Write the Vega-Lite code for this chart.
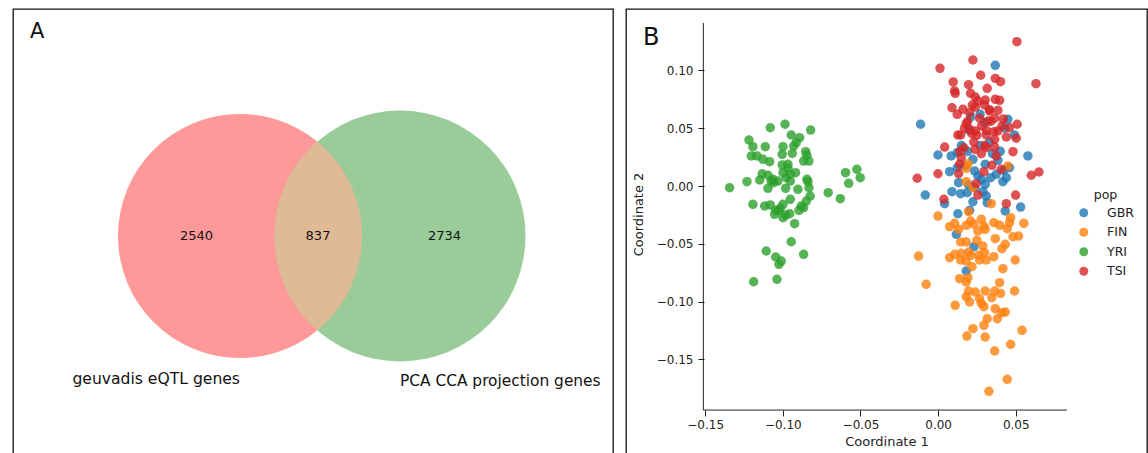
{
  "$schema": "https://vega.github.io/schema/vega-lite/v6.json",
  "padding": {"left": 12, "top": 8, "right": 3, "bottom": 0},
  "background": "white",
  "spacing": 11,
  "resolve": {"scale": {"color": "independent", "size": "independent", "x": "independent", "y": "independent"}, "legend": {"color": "independent", "size": "independent"}},
  "config": {
    "font": "DejaVu Sans",
    "view": {"stroke": "#111", "strokeWidth": 1.3},
    "text": {"font": "DejaVu Sans", "color": "#111"}
  },
  "hconcat": [
    {
      "width": 600,
      "height": 445,
      "layer": [
        {
          "data": {"values": [
            {"set": "geuvadis eQTL genes", "cx": 227, "cy": 227, "total": 3377},
            {"set": "PCA CCA projection genes", "cx": 387, "cy": 227, "total": 3571}
          ]},
          "mark": {"type": "point", "shape": "circle", "filled": true, "opacity": 1, "strokeWidth": 0},
          "encoding": {
            "x": {"field": "cx", "type": "quantitative", "scale": {"domain": [0, 600], "nice": false, "zero": false}, "axis": null},
            "y": {"field": "cy", "type": "quantitative", "scale": {"domain": [0, 445], "nice": false, "zero": false, "reverse": true}, "axis": null},
            "size": {"field": "total", "type": "quantitative", "scale": {"type": "linear", "domain": [0, 3571], "range": [0, 63001], "zero": true}, "legend": null},
            "color": {"field": "set", "type": "nominal", "scale": {"domain": ["geuvadis eQTL genes", "PCA CCA projection genes"], "range": ["#ff9999", "#99cc99"]}, "legend": null}
          }
        },
        {
          "data": {"values": [{"region": "overlap", "cx": 304.3, "cy": 227, "n": 837}]},
          "mark": {"type": "point", "shape": "M0,-0.9439A1.255,1.255,0,0,0,0,0.9439A1.22,1.22,0,0,0,0,-0.9439Z", "filled": true, "fill": "#deba97", "opacity": 1, "strokeWidth": 0, "size": 40000},
          "encoding": {
            "x": {"field": "cx", "type": "quantitative"},
            "y": {"field": "cy", "type": "quantitative"}
          }
        },
        {
          "data": {"values": [
            {"label": "2540", "cx": 183.6, "cy": 230.7},
            {"label": "837", "cx": 305, "cy": 230.7},
            {"label": "2734", "cx": 431.6, "cy": 230.7}
          ]},
          "mark": {"type": "text", "fontSize": 13, "align": "center", "baseline": "alphabetic"},
          "encoding": {
            "x": {"field": "cx", "type": "quantitative"},
            "y": {"field": "cy", "type": "quantitative"},
            "text": {"field": "label"}
          }
        },
        {
          "data": {"values": [{"label": "geuvadis eQTL genes", "cx": 227, "cy": 374.5}]},
          "mark": {"type": "text", "fontSize": 15.6, "align": "right", "baseline": "alphabetic"},
          "encoding": {
            "x": {"field": "cx", "type": "quantitative"},
            "y": {"field": "cy", "type": "quantitative"},
            "text": {"field": "label"}
          }
        },
        {
          "data": {"values": [{"label": "PCA CCA projection genes", "cx": 387, "cy": 377}]},
          "mark": {"type": "text", "fontSize": 15.4, "align": "left", "baseline": "alphabetic"},
          "encoding": {
            "x": {"field": "cx", "type": "quantitative"},
            "y": {"field": "cy", "type": "quantitative"},
            "text": {"field": "label"}
          }
        },
        {
          "data": {"values": [{"label": "A", "cx": 17, "cy": 29}]},
          "mark": {"type": "text", "fontSize": 21, "align": "left", "baseline": "alphabetic"},
          "encoding": {
            "x": {"field": "cx", "type": "quantitative"},
            "y": {"field": "cy", "type": "quantitative"},
            "text": {"field": "label"}
          }
        }
      ]
    },
    {
      "width": 521,
      "height": 445,
      "layer": [
        {
          "data": {"values": [
            {"side": "left", "x": -0.1512, "x2": -0.1512, "y": -0.1938, "y2": 0.141},
            {"side": "bottom", "x": -0.1512, "x2": 0.0829, "y": -0.1938, "y2": -0.1938}
          ]},
          "mark": {"type": "rule", "color": "#222", "strokeWidth": 1},
          "encoding": {
            "x": {"field": "x", "type": "quantitative"},
            "x2": {"field": "x2"},
            "y": {"field": "y", "type": "quantitative"},
            "y2": {"field": "y2"}
          }
        },
        {
          "data": {"values": [
{"pop":"GBR","x":0.0368,"y":0.1044},{"pop":"GBR","x":-0.0113,"y":0.0534},{"pop":"GBR","x":0.0449,"y":0.0577},{"pop":"GBR","x":0.0492,"y":0.0441},{"pop":"GBR","x":0.0209,"y":0.0597},
{"pop":"GBR","x":-0.0001,"y":0.0268},{"pop":"GBR","x":0.0084,"y":0.0260},{"pop":"GBR","x":0.0123,"y":0.0288},{"pop":"GBR","x":0.0578,"y":0.0260},{"pop":"GBR","x":0.0074,"y":0.0124},
{"pop":"GBR","x":0.0123,"y":0.0158},{"pop":"GBR","x":0.0224,"y":0.0231},{"pop":"GBR","x":0.0235,"y":0.0130},{"pop":"GBR","x":0.0303,"y":0.0188},{"pop":"GBR","x":0.0374,"y":0.0101},
{"pop":"GBR","x":0.0424,"y":0.0136},{"pop":"GBR","x":0.0460,"y":0.0158},{"pop":"GBR","x":0.0439,"y":0.0072},{"pop":"GBR","x":0.0417,"y":0.0037},{"pop":"GBR","x":0.0278,"y":0.0058},
{"pop":"GBR","x":0.0303,"y":0.0015},{"pop":"GBR","x":0.0132,"y":0.0029},{"pop":"GBR","x":0.0196,"y":0.0009},{"pop":"GBR","x":0.0089,"y":-0.0049},{"pop":"GBR","x":0.0145,"y":-0.0067},
{"pop":"GBR","x":0.0187,"y":-0.0058},{"pop":"GBR","x":-0.0083,"y":-0.0078},{"pop":"GBR","x":0.0288,"y":-0.0049},{"pop":"GBR","x":0.0310,"y":-0.0087},{"pop":"GBR","x":0.0042,"y":-0.0153},
{"pop":"GBR","x":0.0224,"y":-0.0136},{"pop":"GBR","x":0.0316,"y":-0.0144},{"pop":"GBR","x":0.0127,"y":-0.0240},{"pop":"GBR","x":0.0531,"y":-0.0182},{"pop":"GBR","x":0.0432,"y":-0.0216},
{"pop":"GBR","x":0.0203,"y":-0.0210},{"pop":"GBR","x":0.0235,"y":-0.0015},{"pop":"GBR","x":0.0256,"y":0.0087},{"pop":"GBR","x":0.0338,"y":0.0072},{"pop":"GBR","x":0.0385,"y":0.0222},
{"pop":"GBR","x":0.0171,"y":0.0173},{"pop":"GBR","x":0.0117,"y":-0.0418},{"pop":"GBR","x":0.0231,"y":-0.0525},{"pop":"GBR","x":0.0181,"y":-0.0735},{"pop":"GBR","x":0.0200,"y":0.0480},
{"pop":"GBR","x":0.0300,"y":0.0550},{"pop":"GBR","x":0.0430,"y":0.0500},{"pop":"GBR","x":0.0150,"y":0.0350},{"pop":"GBR","x":0.0330,"y":0.0380},{"pop":"GBR","x":0.0270,"y":0.0620},
{"pop":"GBR","x":0.0400,"y":0.0300},{"pop":"GBR","x":0.0270,"y":0.0350},{"pop":"GBR","x":0.0350,"y":0.0280},{"pop":"GBR","x":0.0190,"y":0.0300},
{"pop":"FIN","x":0.0192,"y":0.0193},{"pop":"FIN","x":0.0181,"y":0.0153},{"pop":"FIN","x":0.0449,"y":0.0173},{"pop":"FIN","x":0.0181,"y":0.0037},{"pop":"FIN","x":0.0224,"y":-0.0015},
{"pop":"FIN","x":0.0342,"y":-0.0153},{"pop":"FIN","x":-0.0001,"y":-0.0260},{"pop":"FIN","x":0.0196,"y":-0.0222},{"pop":"FIN","x":0.0074,"y":-0.0352},{"pop":"FIN","x":0.0106,"y":-0.0323},
{"pop":"FIN","x":0.0132,"y":-0.0375},{"pop":"FIN","x":0.0209,"y":-0.0303},{"pop":"FIN","x":0.0181,"y":-0.0340},{"pop":"FIN","x":0.0278,"y":-0.0288},{"pop":"FIN","x":0.0295,"y":-0.0346},
{"pop":"FIN","x":0.0256,"y":-0.0389},{"pop":"FIN","x":0.0303,"y":-0.0375},{"pop":"FIN","x":0.0359,"y":-0.0317},{"pop":"FIN","x":0.0396,"y":-0.0340},{"pop":"FIN","x":0.0445,"y":-0.0369},
{"pop":"FIN","x":0.0467,"y":-0.0274},{"pop":"FIN","x":0.0460,"y":-0.0317},{"pop":"FIN","x":0.0552,"y":-0.0323},{"pop":"FIN","x":0.0482,"y":-0.0439},{"pop":"FIN","x":0.0518,"y":-0.0433},
{"pop":"FIN","x":0.0368,"y":-0.0456},{"pop":"FIN","x":0.0145,"y":-0.0484},{"pop":"FIN","x":0.0181,"y":-0.0484},{"pop":"FIN","x":0.0250,"y":-0.0470},{"pop":"FIN","x":0.0288,"y":-0.0519},
{"pop":"FIN","x":0.0432,"y":-0.0504},{"pop":"FIN","x":0.0411,"y":-0.0542},{"pop":"FIN","x":-0.0126,"y":-0.0606},{"pop":"FIN","x":0.0074,"y":-0.0620},{"pop":"FIN","x":0.0106,"y":-0.0591},
{"pop":"FIN","x":0.0149,"y":-0.0582},{"pop":"FIN","x":0.0196,"y":-0.0571},{"pop":"FIN","x":0.0261,"y":-0.0599},{"pop":"FIN","x":0.0267,"y":-0.0640},{"pop":"FIN","x":0.0299,"y":-0.0577},
{"pop":"FIN","x":0.0310,"y":-0.0640},{"pop":"FIN","x":0.0359,"y":-0.0611},{"pop":"FIN","x":0.0145,"y":-0.0640},{"pop":"FIN","x":0.0181,"y":-0.0649},{"pop":"FIN","x":0.0218,"y":-0.0698},
{"pop":"FIN","x":0.0496,"y":-0.0640},{"pop":"FIN","x":0.0417,"y":-0.0715},{"pop":"FIN","x":-0.0077,"y":-0.0850},{"pop":"FIN","x":0.0138,"y":-0.0802},{"pop":"FIN","x":0.0192,"y":-0.0793},
{"pop":"FIN","x":0.0181,"y":-0.0830},{"pop":"FIN","x":0.0396,"y":-0.0836},{"pop":"FIN","x":0.0196,"y":-0.0908},{"pop":"FIN","x":0.0239,"y":-0.0917},{"pop":"FIN","x":0.0303,"y":-0.0908},
{"pop":"FIN","x":0.0364,"y":-0.0908},{"pop":"FIN","x":0.0402,"y":-0.0929},{"pop":"FIN","x":0.0492,"y":-0.0908},{"pop":"FIN","x":0.0181,"y":-0.0958},{"pop":"FIN","x":0.0203,"y":-0.1003},
{"pop":"FIN","x":0.0267,"y":-0.0975},{"pop":"FIN","x":0.0278,"y":-0.1015},{"pop":"FIN","x":0.0295,"y":-0.1044},{"pop":"FIN","x":0.0346,"y":-0.0966},{"pop":"FIN","x":0.0110,"y":-0.1032},
{"pop":"FIN","x":0.0368,"y":-0.1061},{"pop":"FIN","x":0.0411,"y":-0.1096},{"pop":"FIN","x":0.0432,"y":-0.1090},{"pop":"FIN","x":0.0381,"y":-0.1148},{"pop":"FIN","x":0.0316,"y":-0.1148},
{"pop":"FIN","x":0.0295,"y":-0.1205},{"pop":"FIN","x":0.0224,"y":-0.1234},{"pop":"FIN","x":0.0540,"y":-0.1248},{"pop":"FIN","x":0.0185,"y":-0.1298},{"pop":"FIN","x":0.0303,"y":-0.1306},
{"pop":"FIN","x":0.0467,"y":-0.1369},{"pop":"FIN","x":0.0364,"y":-0.1427},{"pop":"FIN","x":0.0445,"y":-0.1672},{"pop":"FIN","x":0.0327,"y":-0.1776},{"pop":"FIN","x":0.0230,"y":-0.0330},
{"pop":"FIN","x":0.0210,"y":-0.0600},
{"pop":"YRI","x":-0.1081,"y":0.0504},{"pop":"YRI","x":-0.0986,"y":0.0534},{"pop":"YRI","x":-0.0821,"y":0.0484},{"pop":"YRI","x":-0.1218,"y":0.0398},{"pop":"YRI","x":-0.1193,"y":0.0340},
{"pop":"YRI","x":-0.1113,"y":0.0340},{"pop":"YRI","x":-0.0999,"y":0.0340},{"pop":"YRI","x":-0.0946,"y":0.0441},{"pop":"YRI","x":-0.0892,"y":0.0418},{"pop":"YRI","x":-0.0914,"y":0.0375},
{"pop":"YRI","x":-0.0930,"y":0.0346},{"pop":"YRI","x":-0.1203,"y":0.0260},{"pop":"YRI","x":-0.1167,"y":0.0260},{"pop":"YRI","x":-0.1128,"y":0.0231},{"pop":"YRI","x":-0.1085,"y":0.0210},
{"pop":"YRI","x":-0.1004,"y":0.0274},{"pop":"YRI","x":-0.0939,"y":0.0283},{"pop":"YRI","x":-0.0853,"y":0.0297},{"pop":"YRI","x":-0.0845,"y":0.0266},{"pop":"YRI","x":-0.0866,"y":0.0216},
{"pop":"YRI","x":-0.0832,"y":0.0216},{"pop":"YRI","x":-0.1004,"y":0.0182},{"pop":"YRI","x":-0.0967,"y":0.0153},{"pop":"YRI","x":-0.1133,"y":0.0106},{"pop":"YRI","x":-0.1096,"y":0.0093},
{"pop":"YRI","x":-0.1064,"y":0.0058},{"pop":"YRI","x":-0.1032,"y":0.0043},{"pop":"YRI","x":-0.0999,"y":0.0115},{"pop":"YRI","x":-0.0952,"y":0.0101},{"pop":"YRI","x":-0.0918,"y":0.0115},
{"pop":"YRI","x":-0.0978,"y":0.0072},{"pop":"YRI","x":-0.1149,"y":0.0052},{"pop":"YRI","x":-0.1231,"y":0.0037},{"pop":"YRI","x":-0.1343,"y":-0.0015},{"pop":"YRI","x":-0.1096,"y":-0.0020},
{"pop":"YRI","x":-0.0982,"y":-0.0020},{"pop":"YRI","x":-0.0903,"y":-0.0029},{"pop":"YRI","x":-0.0845,"y":0.0058},{"pop":"YRI","x":-0.0838,"y":0.0037},{"pop":"YRI","x":-0.0832,"y":-0.0015},
{"pop":"YRI","x":-0.0824,"y":-0.0087},{"pop":"YRI","x":-0.0849,"y":-0.0130},{"pop":"YRI","x":-0.0882,"y":-0.0173},{"pop":"YRI","x":-0.0896,"y":-0.0210},{"pop":"YRI","x":-0.0952,"y":-0.0115},
{"pop":"YRI","x":-0.0999,"y":-0.0158},{"pop":"YRI","x":-0.1017,"y":-0.0193},{"pop":"YRI","x":-0.1046,"y":-0.0210},{"pop":"YRI","x":-0.1053,"y":-0.0245},{"pop":"YRI","x":-0.1117,"y":-0.0173},
{"pop":"YRI","x":-0.1081,"y":-0.0164},{"pop":"YRI","x":-0.1193,"y":-0.0158},{"pop":"YRI","x":-0.0999,"y":-0.0274},{"pop":"YRI","x":-0.0982,"y":-0.0251},{"pop":"YRI","x":-0.0956,"y":-0.0240},
{"pop":"YRI","x":-0.0924,"y":-0.0326},{"pop":"YRI","x":-0.0946,"y":-0.0482},{"pop":"YRI","x":-0.1107,"y":-0.0562},{"pop":"YRI","x":-0.1046,"y":-0.0614},{"pop":"YRI","x":-0.1010,"y":-0.0649},
{"pop":"YRI","x":-0.1025,"y":-0.0677},{"pop":"YRI","x":-0.0866,"y":-0.0591},{"pop":"YRI","x":-0.1188,"y":-0.0828},{"pop":"YRI","x":-0.1038,"y":-0.0807},{"pop":"YRI","x":-0.0708,"y":-0.0058},
{"pop":"YRI","x":-0.0630,"y":-0.0110},{"pop":"YRI","x":-0.0596,"y":0.0115},{"pop":"YRI","x":-0.0523,"y":0.0144},{"pop":"YRI","x":-0.0502,"y":0.0072},{"pop":"YRI","x":-0.0576,"y":0.0023},
{"pop":"YRI","x":-0.1059,"y":0.0029},{"pop":"YRI","x":-0.1075,"y":0.0043},{"pop":"YRI","x":-0.0952,"y":0.0043},{"pop":"YRI","x":-0.0967,"y":0.0188},{"pop":"YRI","x":-0.1025,"y":-0.0210},
{"pop":"YRI","x":-0.0866,"y":-0.0188},
{"pop":"TSI","x":0.0507,"y":0.1248},{"pop":"TSI","x":0.0224,"y":0.1090},{"pop":"TSI","x":0.0012,"y":0.1018},{"pop":"TSI","x":0.0630,"y":0.0885},{"pop":"TSI","x":0.0274,"y":0.0958},
{"pop":"TSI","x":0.0368,"y":0.0931},{"pop":"TSI","x":0.0402,"y":0.0902},{"pop":"TSI","x":0.0097,"y":0.0900},{"pop":"TSI","x":0.0196,"y":0.0876},{"pop":"TSI","x":0.0106,"y":0.0822},
{"pop":"TSI","x":0.0110,"y":0.0802},{"pop":"TSI","x":0.0316,"y":0.0845},{"pop":"TSI","x":0.0209,"y":0.0802},{"pop":"TSI","x":0.0239,"y":0.0770},{"pop":"TSI","x":0.0089,"y":0.0677},
{"pop":"TSI","x":0.0160,"y":0.0663},{"pop":"TSI","x":0.0256,"y":0.0735},{"pop":"TSI","x":0.0303,"y":0.0744},{"pop":"TSI","x":0.0368,"y":0.0750},{"pop":"TSI","x":0.0396,"y":0.0741},
{"pop":"TSI","x":0.0239,"y":0.0683},{"pop":"TSI","x":0.0299,"y":0.0701},{"pop":"TSI","x":0.0203,"y":0.0634},{"pop":"TSI","x":0.0332,"y":0.0649},{"pop":"TSI","x":0.0385,"y":0.0655},
{"pop":"TSI","x":0.0123,"y":0.0620},{"pop":"TSI","x":0.0509,"y":0.0534},{"pop":"TSI","x":0.0267,"y":0.0586},{"pop":"TSI","x":0.0321,"y":0.0562},{"pop":"TSI","x":0.0181,"y":0.0539},
{"pop":"TSI","x":0.0203,"y":0.0490},{"pop":"TSI","x":0.0239,"y":0.0476},{"pop":"TSI","x":0.0364,"y":0.0586},{"pop":"TSI","x":0.0411,"y":0.0519},{"pop":"TSI","x":0.0127,"y":0.0441},
{"pop":"TSI","x":0.0310,"y":0.0482},{"pop":"TSI","x":0.0385,"y":0.0476},{"pop":"TSI","x":0.0460,"y":0.0504},{"pop":"TSI","x":0.0503,"y":0.0413},{"pop":"TSI","x":0.0145,"y":0.0441},
{"pop":"TSI","x":0.0218,"y":0.0453},{"pop":"TSI","x":0.0310,"y":0.0441},{"pop":"TSI","x":0.0364,"y":0.0404},{"pop":"TSI","x":0.0439,"y":0.0424},{"pop":"TSI","x":0.0042,"y":0.0337},
{"pop":"TSI","x":0.0166,"y":0.0331},{"pop":"TSI","x":0.0239,"y":0.0317},{"pop":"TSI","x":0.0310,"y":0.0331},{"pop":"TSI","x":0.0364,"y":0.0337},{"pop":"TSI","x":0.0278,"y":0.0279},
{"pop":"TSI","x":0.0482,"y":0.0297},{"pop":"TSI","x":0.0149,"y":0.0245},{"pop":"TSI","x":0.0374,"y":0.0260},{"pop":"TSI","x":0.0138,"y":0.0188},{"pop":"TSI","x":-0.0001,"y":0.0106},
{"pop":"TSI","x":-0.0135,"y":0.0067},{"pop":"TSI","x":0.0132,"y":0.0106},{"pop":"TSI","x":0.0295,"y":0.0124},{"pop":"TSI","x":0.0346,"y":0.0179},{"pop":"TSI","x":0.0600,"y":0.0093},
{"pop":"TSI","x":0.0649,"y":0.0121},{"pop":"TSI","x":0.0245,"y":0.0020},{"pop":"TSI","x":0.0037,"y":-0.0115},{"pop":"TSI","x":0.0256,"y":-0.0078},{"pop":"TSI","x":0.0499,"y":-0.0078},
{"pop":"TSI","x":0.0439,"y":-0.0153},{"pop":"TSI","x":0.0406,"y":0.0144},{"pop":"TSI","x":0.0220,"y":0.0700},{"pop":"TSI","x":0.0280,"y":0.0520},{"pop":"TSI","x":0.0340,"y":0.0560},
{"pop":"TSI","x":0.0190,"y":0.0560},{"pop":"TSI","x":0.0250,"y":0.0440},{"pop":"TSI","x":0.0300,"y":0.0350},{"pop":"TSI","x":0.0360,"y":0.0470},{"pop":"TSI","x":0.0230,"y":0.0380},
{"pop":"TSI","x":0.0170,"y":0.0500},{"pop":"TSI","x":0.0330,"y":0.0660},{"pop":"TSI","x":0.0420,"y":0.0580},{"pop":"TSI","x":0.0140,"y":0.0300}
          ]},
          "mark": {"type": "circle", "size": 90, "opacity": 0.8},
          "encoding": {
            "x": {
              "field": "x", "type": "quantitative",
              "scale": {"domain": [-0.201, 0.1345], "nice": false, "zero": false},
              "axis": {
                "title": "Coordinate 1", "values": [-0.15, -0.1, -0.05, 0, 0.05], "format": ".2f",
                "offset": -44, "domain": false, "grid": false,
                "tickSize": 6, "tickColor": "#222", "tickWidth": 1,
                "labelFontSize": 12, "labelColor": "#222", "labelPadding": 3,
                "titleFontSize": 13, "titleFontWeight": "normal", "titleColor": "#222", "titlePadding": 5
              }
            },
            "y": {
              "field": "y", "type": "quantitative",
              "scale": {"domain": [-0.2318, 0.1531], "nice": false, "zero": false},
              "axis": {
                "title": "Coordinate 2", "values": [-0.15, -0.1, -0.05, 0, 0.05, 0.1], "format": ".2f",
                "offset": -78, "domain": false, "grid": false,
                "tickSize": 6, "tickColor": "#222", "tickWidth": 1,
                "labelFontSize": 12, "labelColor": "#222", "labelPadding": 5,
                "titleFontSize": 13, "titleFontWeight": "normal", "titleColor": "#222", "titlePadding": 11,
                "titleY": 205
              }
            },
            "color": {
              "field": "pop", "type": "nominal",
              "scale": {"domain": ["GBR", "FIN", "YRI", "TSI"], "range": ["#1f77b4", "#ff7f0e", "#2ca02c", "#d62728"]},
              "legend": {
                "title": "pop", "orient": "none", "legendX": 451.5, "legendY": 180,
                "titleFontSize": 12.5, "titleFontWeight": "normal", "titleColor": "#222", "titleAnchor": "middle", "titlePadding": 5,
                "labelFontSize": 12.5, "labelColor": "#222", "labelOffset": 17,
                "symbolType": "circle", "symbolSize": 80, "symbolOpacity": 0.8, "symbolStrokeWidth": 0,
                "rowPadding": 6.5
              }
            }
          }
        },
        {
          "data": {"values": [{"label": "B", "x": -0.1901, "y": 0.1217}]},
          "mark": {"type": "text", "fontSize": 24, "align": "left", "baseline": "alphabetic"},
          "encoding": {
            "x": {"field": "x", "type": "quantitative"},
            "y": {"field": "y", "type": "quantitative"},
            "text": {"field": "label"}
          }
        }
      ]
    }
  ]
}
